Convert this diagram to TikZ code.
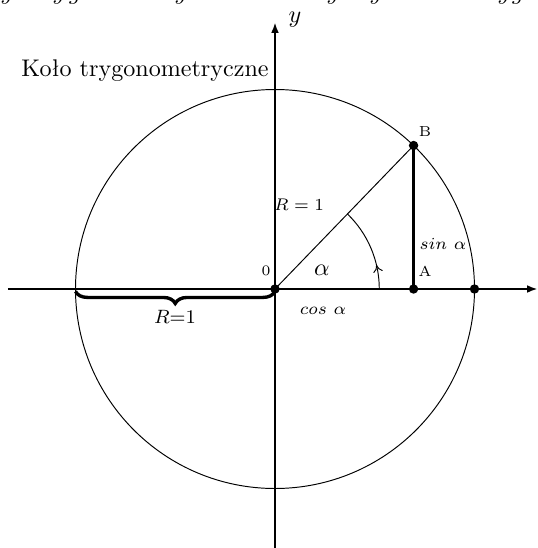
\documentclass[tikz,border=0pt]{standalone}
\usetikzlibrary{arrows.meta,decorations.pathreplacing,decorations.markings}
\begin{document}
\begin{tikzpicture}[x=0.415pt,y=0.415pt,
  axisline/.style={line width=1.1pt,-{Latex[length=4.5pt,width=3.2pt]}},
  thinline/.style={line width=0.4pt},
  thickline/.style={line width=1.1pt},
  dot/.style={circle,fill=black,inner sep=0pt,minimum size=3.9pt},
  lbl/.style={inner sep=0pt},
  small/.style={inner sep=0pt,font=\fontsize{6pt}{7pt}\selectfont},
  frag/.style={inner sep=0pt,anchor=base}]
\useasboundingbox (-275,-259) rectangle (263,289);
% clipped fragments of a text line above the picture
\node[frag] (f1) at (-268,289.5) {$y$};
\node[frag] (f2) at (-216,289.5) {$y$};
\node[frag] (f3) at (-200,289.5) {$g$};
\node[frag] (f4) at (-94,289.5) {$y$};
\node[frag] (f5) at (58,289.5) {$y$};
\node[frag] (f6) at (101,289.5) {$y$};
\node[frag] (f7) at (229,289.5) {$y$};
\node[frag] (f8) at (243,289.5) {$g$};
% coordinates
\coordinate (O) at (0,0);
\coordinate (xs) at (-267,0);
\coordinate (xe) at (263,0);
\coordinate (ys) at (0,-259);
\coordinate (ye) at (0,267);
\coordinate (B) at (46:199.5);
\coordinate (A) at (B |- O);
\coordinate (P) at (199.5,0);
\coordinate (L) at (-199.5,0);
% circle and lines
\draw[thinline] (O) circle (199.5);
\draw[axisline] (xs) -- (xe);
\draw[axisline] (ys) -- (ye);
\draw[thinline] (O) -- (B);
\draw[thickline] (B) -- (A);
\draw[thinline, postaction={decorate},
  decoration={markings, mark=at position 0.29 with {\arrow{To[length=3pt,width=4pt]}}}]
  (104.3,0) arc[start angle=0, end angle=46, radius=104.3];
\draw[line width=1.4pt, decorate, decoration={brace, mirror, amplitude=5pt, raise=1pt}] (L) -- (O);
% dots
\node[dot] (Od) at (O) {};
\node[dot] (Ad) at (A) {};
\node[dot] (Bd) at (B) {};
\node[dot] (Pd) at (P) {};
% labels
\node[lbl] (ylab) at (20,269) {$y$};
\node[lbl, anchor=base west] (title) at (-254,213) {Koło trygonometryczne};
\node[small] (zero) at (-9,18) {0};
\node[small] (Alab) at (150,18) {A};
\node[small] (Blab) at (150,157) {B};
\node[lbl] (R) at (24,84) {\scriptsize $R = 1$};
\node[lbl] (sin) at (168,45) {\scriptsize $sin\ \alpha$};
\node[lbl] (cos) at (48,-22) {\scriptsize $cos\ \alpha$};
\node[lbl] (alpha) at (47,19) {$\alpha$};
\node[lbl] (R1) at (-100,-28) {\footnotesize $R{=}1$};
\end{tikzpicture}
\end{document}
